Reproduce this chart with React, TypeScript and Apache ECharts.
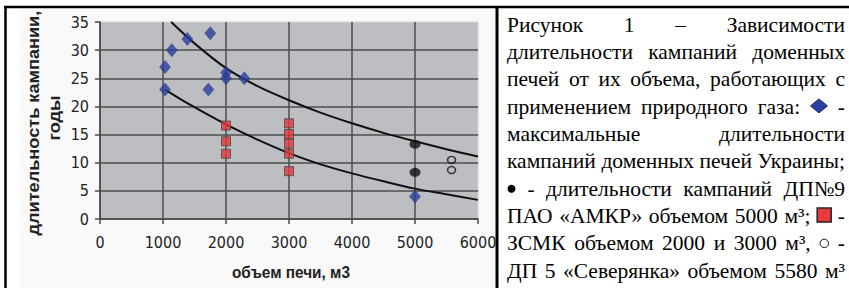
import React, { useEffect, useRef } from "react";
import * as echarts from "echarts";

// ---- data ----
const xTicks = [0, 1000, 2000, 3000, 4000, 5000, 6000];
const yTicks = [0, 5, 10, 15, 20, 25, 30, 35];

// Ukraine blast furnaces – maximal campaign durations (blue diamonds)
const ukrVolume = [1033, 1033, 1140, 1386, 1750, 1720, 2000, 2000, 2290, 5000];
const ukrYears = [27, 23, 30, 32, 33, 23, 26, 25, 25, 4];

// ZSMK 2000 and 3000 m3 (red squares)
const zsmkVolume = [2000, 2000, 2000, 3000, 3000, 3000, 3000, 3000];
const zsmkYears = [16.6, 13.8, 11.6, 17, 15.1, 13.4, 11.6, 8.5];

// DP-9 AMKR 5000 m3 (black dots)
const amkrVolume = [5000, 5000];
const amkrYears = [13.3, 8.3];

// DP-5 Severyanka 5580 m3 (open circles)
const sevVolume = [5580, 5580];
const sevYears = [10.5, 8.7];

// upper and lower trend curves
const upperVolume = [1130, 1500, 2000, 2500, 3000, 3500, 4000, 4500, 5000, 5500, 6000];
const upperYears = [35, 31.2, 26.8, 23.6, 21.1, 18.9, 17.0, 15.3, 13.8, 12.4, 11.1];
const lowerVolume = [1033, 1429, 2000, 2500, 3000, 3500, 4000, 4500, 5000, 5500, 6000];
const lowerYears = [23, 20.3, 16.8, 14.1, 11.7, 9.7, 8.1, 6.7, 5.4, 4.4, 3.4];

const yTitle1 = "длительность кампании,";
const yTitle2 = "годы";
const xTitle = "объем печи, м3";

const captionLines: string[][] = [
  ["Рисунок", "1", "–", "Зависимости"],
  ["длительности", "кампаний", "доменных"],
  ["печей", "от", "их", "объема,", "работающих", "с"],
  ["применением", "природного", "газа:", "@diamond", "-"],
  ["максимальные", "длительности"],
  ["кампаний", "доменных", "печей", "Украины;"],
  ["@bullet", "-", "длительности", "кампаний", "ДП№9"],
  ["ПАО", "«АМКР»", "объемом", "5000", "м³;", "@square", "-"],
  ["ЗСМК", "объемом", "2000", "и", "3000", "м³,", "@ring", "-"],
  ["ДП", "5", "«Северянка»", "объемом", "5580", "м³"],
];

const W = 849;
const H = 288;
const ICON_W: Record<string, number> = { "@diamond": 18, "@square": 14, "@bullet": 9, "@ring": 10 };
const SERIF_STACK = '"Liberation Serif", "Times New Roman", serif';
const SANS = "Liberation Sans";

const pairs = (xs: number[], ys: number[]) => xs.map((x, i) => [x, ys[i]]);

function measurer(font: string) {
  const cv = document.createElement("canvas");
  const ctx = cv.getContext("2d")!;
  ctx.font = font;
  return (t: string) => ctx.measureText(t).width;
}

function captionGraphics(): any[] {
  const REF = 24;
  const LEFT = 507;
  const RIGHT = 845;
  const BASE0 = 31;
  const STEP = 27.3;
  const avail = RIGHT - LEFT;
  const m0 = measurer(`${REF}px ${SERIF_STACK}`);
  const sp0 = m0(" ");
  let s = 1;
  captionLines.forEach((line) => {
    let tw = 0;
    let iw = 0;
    line.forEach((w) => {
      if (w in ICON_W) iw += ICON_W[w];
      else tw += m0(w);
    });
    s = Math.min(s, (avail - iw) / (tw + sp0 * (line.length - 1)));
  });
  const SIZE = Math.floor(REF * s * 10) / 10;
  const FONT = `${SIZE}px ${SERIF_STACK}`;
  const m = measurer(FONT);
  const out: any[] = [];
  captionLines.forEach((line, li) => {
    const base = BASE0 + li * STEP;
    let tw = 0;
    let iw = 0;
    line.forEach((w) => {
      if (w in ICON_W) iw += ICON_W[w];
      else tw += m(w);
    });
    const gap = line.length > 1 ? (avail - iw - tw) / (line.length - 1) : 0;
    let x = LEFT;
    line.forEach((w) => {
      if (w in ICON_W) {
        const iwd = ICON_W[w];
        const cx = x + iwd / 2;
        const cy = base - 7;
        if (w === "@diamond") {
          out.push({
            type: "polygon",
            shape: { points: [[cx - 8.5, cy], [cx, cy - 7], [cx + 8.5, cy], [cx, cy + 7]] },
            style: { fill: "#2b3f9e", stroke: "#1a2766", lineWidth: 1 },
          });
        } else if (w === "@square") {
          out.push({
            type: "rect",
            shape: { x: cx - 7, y: cy - 7, width: 14, height: 14 },
            style: { fill: "#e8393d", stroke: "#222", lineWidth: 1.5 },
          });
        } else if (w === "@bullet") {
          out.push({ type: "circle", shape: { cx, cy: cy + 1, r: 4 }, style: { fill: "#000" } });
        } else {
          out.push({
            type: "circle",
            shape: { cx, cy: cy + 1, r: 4.2 },
            style: { fill: "none", stroke: "#000", lineWidth: 1 },
          });
        }
        x += iwd + gap;
      } else {
        out.push({
          type: "text",
          x,
          y: base - SIZE * 0.8,
          style: {
            text: w,
            font: FONT,
            fill: "#000",
          },
        });
        x += m(w) + gap;
      }
    });
  });
  return out;
}

function titleGraphics(): any[] {
  const m = measurer(`bold 17px "${SANS}"`);
  const base = {
    fontSize: 17,
    fontWeight: "bold",
    fontFamily: SANS,
    fill: "#222",
  };
  const wx = m(xTitle);
  const sy = 225 / m(yTitle1);
  return [
    {
      type: "text",
      x: 291 - 59,
      y: 263,
      scaleX: 118 / wx,
      style: { ...base, text: xTitle },
    },
    {
      type: "text",
      x: 25,
      y: 123 + 112.5,
      rotation: Math.PI / 2,
      scaleX: sy,
      style: { ...base, text: yTitle1 },
    },
    {
      type: "text",
      x: 46,
      y: 118 + (m(yTitle2) * sy) / 2,
      rotation: Math.PI / 2,
      scaleX: sy,
      style: { ...base, text: yTitle2 },
    },
  ];
}

function frameGraphics(): any[] {
  return [
    { type: "rect", z: -10, shape: { x: 20, y: 9, width: 475, height: 279 }, style: { fill: "#f9f9f9" } },
    { type: "line", shape: { x1: 4, y1: 7, x2: W, y2: 7 }, style: { stroke: "#000", lineWidth: 2.5 } },
    { type: "line", shape: { x1: 5.5, y1: 6, x2: 5.5, y2: H }, style: { stroke: "#000", lineWidth: 2.5 } },
    { type: "line", shape: { x1: 497, y1: 6, x2: 497, y2: H }, style: { stroke: "#000", lineWidth: 3 } },
  ];
}

function buildOption(): any {
  const axisCol = "#4a4a4a";
  const plain = (v: number) => String(v);
  const tickFont = { fontFamily: "DejaVu Sans Condensed, Liberation Sans, sans-serif", fontSize: 16, color: "#222" };
  return {
    animation: false,
    backgroundColor: "#ffffff",
    grid: {
      left: 100,
      right: W - 478,
      top: 22,
      bottom: H - 219,
      show: true,
      backgroundColor: "#bdbec2",
      borderColor: "#d2d2d2",
      borderWidth: 1,
    },
    xAxis: {
      type: "value",
      min: xTicks[0],
      max: xTicks[xTicks.length - 1],
      interval: xTicks[1] - xTicks[0],
      axisLine: { show: true, lineStyle: { color: axisCol, width: 1.5 } },
      axisTick: { show: true, length: 5, lineStyle: { color: axisCol, width: 1.5 } },
      axisLabel: { ...tickFont, margin: 15, formatter: plain },
      splitLine: { show: true, showMaxLine: false, lineStyle: { color: "#4d4d4d", width: 1.5 } },
    },
    yAxis: {
      type: "value",
      min: yTicks[0],
      max: yTicks[yTicks.length - 1],
      interval: yTicks[1] - yTicks[0],
      axisLine: { show: true, lineStyle: { color: axisCol, width: 1.5 } },
      axisTick: { show: true, length: 5, lineStyle: { color: axisCol, width: 1.5 } },
      axisLabel: { ...tickFont, margin: 11, formatter: plain },
      splitLine: { show: true, showMaxLine: false, lineStyle: { color: "#4d4d4d", width: 1.5 } },
    },
    series: [
      {
        type: "line",
        data: pairs(upperVolume, upperYears),
        smooth: 0.3,
        showSymbol: false,
        lineStyle: { color: "#111", width: 2 },
        z: 3,
      },
      {
        type: "line",
        data: pairs(lowerVolume, lowerYears),
        smooth: 0.3,
        showSymbol: false,
        lineStyle: { color: "#111", width: 2 },
        z: 3,
      },
      {
        type: "scatter",
        data: pairs(ukrVolume, ukrYears),
        symbol: "diamond",
        symbolSize: [11, 13],
        itemStyle: { color: "#2b3f9e", borderColor: "#1d2a70", borderWidth: 0.5 },
        z: 4,
      },
      {
        type: "scatter",
        data: pairs(zsmkVolume, zsmkYears),
        symbol: "rect",
        symbolSize: 9,
        itemStyle: { color: "#e5383b", borderColor: "#444", borderWidth: 1 },
        z: 4,
      },
      {
        type: "scatter",
        data: pairs(amkrVolume, amkrYears),
        symbol: "circle",
        symbolSize: [11, 9],
        itemStyle: { color: "#111" },
        z: 4,
      },
      {
        type: "scatter",
        data: pairs(sevVolume, sevYears),
        symbol: "circle",
        symbolSize: [8, 7],
        itemStyle: { color: "rgba(0,0,0,0)", borderColor: "#111", borderWidth: 1.5 },
        z: 4,
      },
    ],
    graphic: [...frameGraphics(), ...titleGraphics(), ...captionGraphics()],
  };
}

export default function App() {
  const ref = useRef<HTMLDivElement>(null);
  useEffect(() => {
    const chart = echarts.init(ref.current!, null, { renderer: "svg" });
    chart.setOption(buildOption());
    return () => chart.dispose();
  }, []);
  return (
    <div
      ref={ref}
      style={{ position: "absolute", left: 0, top: 0, width: W, height: H, background: "#fff" }}
    />
  );
}
